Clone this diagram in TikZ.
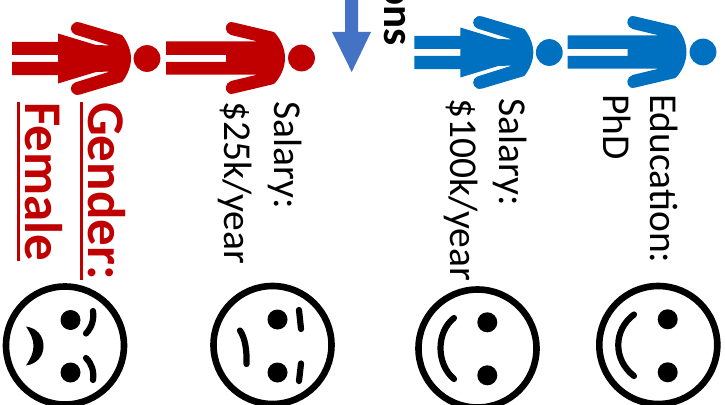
\documentclass[tikz,border=0pt]{standalone}
\usepackage{fontspec}
\setmainfont{Carlito}
\definecolor{redc}{HTML}{C00000}
\definecolor{bluec}{HTML}{0070C0}
\definecolor{arrowc}{HTML}{4472C4}
\newcommand{\ulbar}[1]{\setbox0\hbox{#1}\rlap{\rule[-8.5pt]{\wd0}{3pt}}\box0}
\tikzset{
  x=1pt,y=-1pt,
  lbl/.style={rotate=-90,anchor=base west,inner sep=0pt,font=\fontsize{39.5}{39.5}\selectfont,text=black},
  redlbl/.style={lbl,font=\fontsize{53}{53}\selectfont\bfseries,text=redc},
  facering/.style={draw=black,line width=6.6pt},
  feature/.style={draw=black,line width=6.2pt,line cap=round},
  eye/.style={fill=black},
  pics/womanfig/.style={code={
    \fill[#1] (147,58.5) circle[radius=13.4];
    \fill[#1] (12,42) -- (58,42) -- (58,33.5) -- (96,45) -- (110,45.5) -- (75,34.5)
      .. controls (70,32.5) and (69,25) .. (75,22.5) .. controls (76,22) and (78,22) .. (80,22.5)
      -- (122,35) .. controls (127,41) and (131,50) .. (131,58.5)
      .. controls (131,67) and (127,76) .. (122,82)
      -- (80,94.5) .. controls (78,95) and (76,95) .. (75,94.5) .. controls (69,92) and (70,84.5) .. (75,82.5)
      -- (110,71.5) -- (96,72) -- (58,83.5) -- (58,75) -- (12,75) -- (12,62) -- (58,62) -- (58,55) -- (12,55) -- cycle;
  }},
  pics/manfig/.style={code={
    \fill[#1] (301.5,58) circle[radius=13.4];
    \fill[#1] (166,41.5) -- (258,41.5) -- (231,35)
      .. controls (225,33) and (224,25) .. (229,22.5) .. controls (230,22) and (232,22) .. (234,22.5)
      -- (274,32) .. controls (281,39) and (285,49) .. (285,58)
      .. controls (285,67) and (281,77) .. (274,84)
      -- (234,93.5) .. controls (232,94) and (230,94) .. (229,93.5) .. controls (224,91) and (225,83) .. (231,81)
      -- (258,74.5) -- (166,74.5) -- (166,62) -- (226,62) -- (226,55) -- (166,55) -- cycle;
  }},
}
\begin{document}
\begin{tikzpicture}
\useasboundingbox (0,0) rectangle (725,404);
\clip (0,0) rectangle (725,404);
\fill[white] (0,0) rectangle (725,404);
% people
\pic {womanfig=redc};
\pic {manfig=redc};
\pic[shift={(402.3,-6)}] {womanfig=bluec};
\pic[shift={(401.5,-6)}] {manfig=bluec};
% arrow
\fill[arrowc] (345,-1) -- (358,-1) -- (358,32) -- (371,32) -- (351.7,72) -- (332,32) -- (345,32) -- cycle;
% labels
\node[redlbl] (gender) at (88.5,102) {\ulbar{Gender:}};
\node[redlbl] (female) at (25.7,102) {\ulbar{Female}};
\node[lbl] (sal1) at (274,101) {Salary:};
\node[lbl] (pay1) at (224,101) {\$25k/year};
\node[lbl] (sal2) at (499,98) {Salary:};
\node[lbl] (pay2) at (450.5,98) {\$100k/year};
\node[lbl] (edu) at (650,94) {Education:};
\node[lbl] (phd) at (603,94) {PhD};
\node[rotate=-90,anchor=base east,inner sep=0pt,font=\fontsize{43}{43}\selectfont\bfseries] (ons) at (384,46) {ons};
% face 1
\draw[facering] (65,345.5) circle[radius=59];
\fill[eye] (70.5,320) circle[radius=10];
\fill[eye] (70.5,372.5) circle[radius=10];
\fill[black] (26,326.5) .. controls (37,328) and (43.5,336) .. (43.5,346) .. controls (43.5,356) and (37,364) .. (26,365.5) .. controls (31,358) and (33.5,352) .. (33.5,346) .. controls (33.5,340) and (31,334) .. (26,326.5) -- cycle;
\draw[feature] (93,311) .. controls (94,320) and (92,327) .. (86,333.5);
\draw[feature] (93,380) .. controls (94,371) and (92,364) .. (86,358);
% face 2
\draw[facering] (272.5,345) circle[radius=59];
\fill[eye] (277.5,319.5) circle[radius=10];
\fill[eye] (277.5,372.5) circle[radius=10];
\draw[feature] (299,310) -- (301,329);
\draw[feature] (301,363.5) -- (299,381);
\draw[feature] (240,330.5) .. controls (245,338) and (247,350) .. (246.5,364);
% face 3
\draw[facering] (477.5,348.5) circle[radius=59];
\fill[eye] (487.3,322.3) circle[radius=10];
\fill[eye] (487.3,375.3) circle[radius=10];
\draw[feature] (454,318) .. controls (436,332) and (436,364) .. (454,379);
% face 4
\draw[facering] (658.3,345) circle[radius=59];
\fill[eye] (667.7,319.3) circle[radius=10];
\fill[eye] (667.7,372.3) circle[radius=10];
\draw[feature] (634,314.5) .. controls (613,330) and (613,360) .. (634,376);
\end{tikzpicture}
\end{document}
